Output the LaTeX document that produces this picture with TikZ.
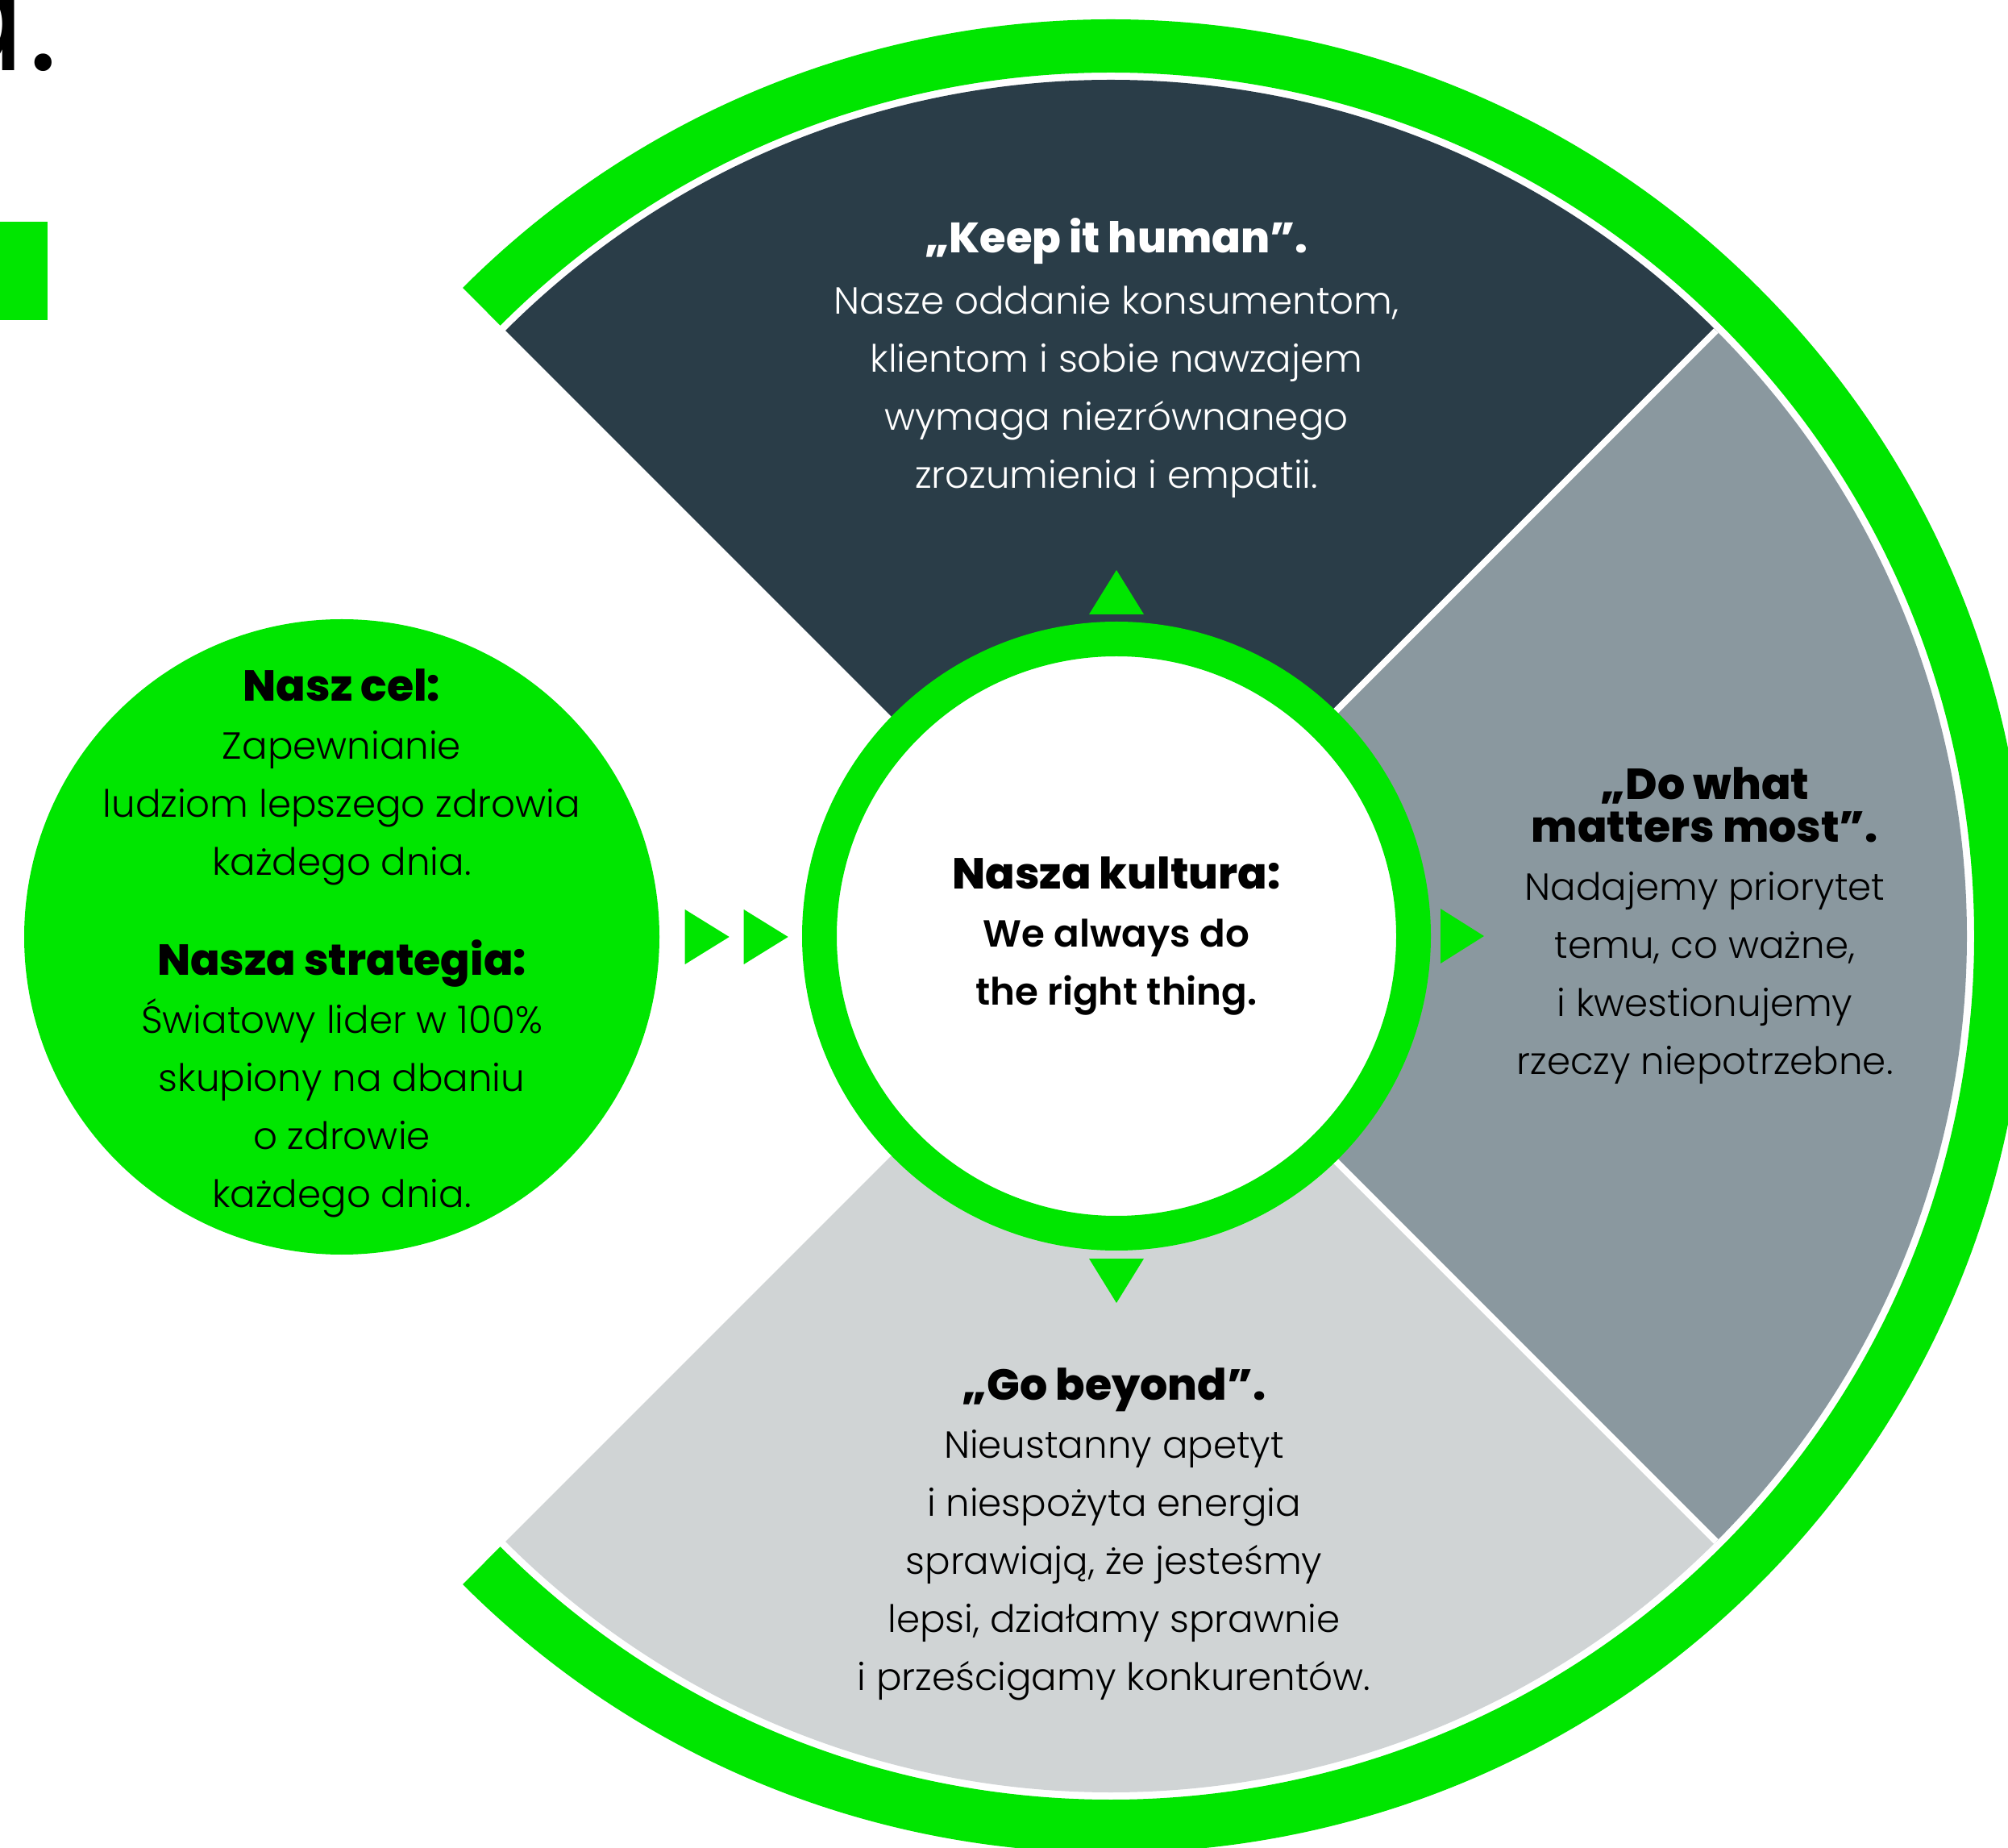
\documentclass[tikz,border=0pt]{standalone}
\usepackage{fontspec}
\setmainfont{Poppins}[UprightFont=* Light, BoldFont=* SemiBold]
\newfontfamily\heavyfont{Poppins ExtraBold}
\usetikzlibrary{calc}
\usetikzlibrary{positioning}
\definecolor{hgreen}{HTML}{00E600}
\definecolor{slatedark}{HTML}{2A3D48}
\definecolor{slatemid}{HTML}{8A989F}
\definecolor{slatelight}{HTML}{D0D4D5}
\newcommand{\bodysize}{\fontsize{13.3}{20.5}\selectfont}
\newcommand{\headsize}{\heavyfont\fontsize{15.3}{20.5}\selectfont}

\begin{document}
\begin{tikzpicture}[
    txt/.style={align=center, inner sep=0pt, font=\bodysize},
    tri/.style={fill=hgreen}]
    \useasboundingbox (0,0) rectangle (24.91,22.91);
    \coordinate (O) at (13.78,11.30);

    % title remnant and side marker
    \node[anchor=base east, inner sep=0pt, font=\fontsize{60}{60}\selectfont] (title) at (0.74,22.03) {d.};
    \fill[hgreen] (0,18.94) rectangle (0.59,20.16);

    % outer green ring
    \draw[hgreen, line width=0.66cm] ($(O)+(-135:11.04)$) arc (-135:135:11.04);

    % three value sectors
    \fill[slatedark] (O) -- ++(45:10.62) arc (45:135:10.62) -- cycle;
    \fill[slatemid] (O) -- ++(-45:10.62) arc (-45:45:10.62) -- cycle;
    \fill[slatelight] (O) -- ++(-135:10.62) arc (-135:-45:10.62) -- cycle;
    \foreach \a in {45,-45}
        \draw[white, line width=0.8mm] (O) -- ++(\a:10.62);

    % culture in the middle
    \node[circle, draw=hgreen, line width=0.43cm, fill=white, minimum size=7.37cm, txt] (kultura) at (13.85,11.30)
        {{\headsize Nasza kultura:}\\ \bfseries We always do\\ \bfseries the right thing.};

    % purpose and strategy
    \node[circle, fill=hgreen, minimum size=7.88cm, inner sep=0pt] (cel) at (4.24,11.29) {};
    \node[txt] (celtxt) at (4.24,11.21)
        {{\headsize Nasz cel:}\\ Zapewnianie\\ ludziom lepszego zdrowia\\ każdego dnia.\\[0.52cm]
         {\headsize Nasza strategia:}\\ Światowy lider w 100\%\\ skupiony na dbaniu\\ o zdrowie\\ każdego dnia.};

    % sector texts
    \node[txt, text=white] (keep) at (13.85,18.47)
        {{\headsize\fontsize{15}{20.5}\selectfont „Keep it human”.}\\[0.04cm] Nasze oddanie konsumentom,\\ klientom i sobie nawzajem\\ wymaga niezrównanego\\ zrozumienia i empatii.};
    \node[txt] (matters) at (21.15,11.43)
        {{\headsize „Do what}\\[-0.19cm] {\headsize matters most”.}\\ Nadajemy priorytet\\ temu, co ważne,\\ i kwestionujemy\\ rzeczy niepotrzebne.};
    \node[txt] (beyond) at (13.82,3.885)
        {{\headsize „Go beyond”.}\\ Nieustanny apetyt\\ i niespożyta energia\\ sprawiają, że jesteśmy\\ lepsi, działamy sprawnie\\ i prześcigamy konkurentów.};

    % pointers
    \fill[tri] ($(kultura.north)+(-0.34,0.09)$) -- ++(0.68,0) -- ++(-0.34,0.55) -- cycle;
    \fill[tri] ($(kultura.south)+(-0.34,-0.10)$) -- ++(0.68,0) -- ++(-0.34,-0.55) -- cycle;
    \fill[tri] ($(kultura.east)+(0.12,0.34)$) -- ++(0,-0.68) -- ++(0.54,0.34) -- cycle;
    \foreach \dx in {0.31,1.04}
        \fill[tri] ($(cel.east)+(\dx,0.34)$) -- ++(0,-0.68) -- ++(0.55,0.34) -- cycle;
\end{tikzpicture}
\end{document}
